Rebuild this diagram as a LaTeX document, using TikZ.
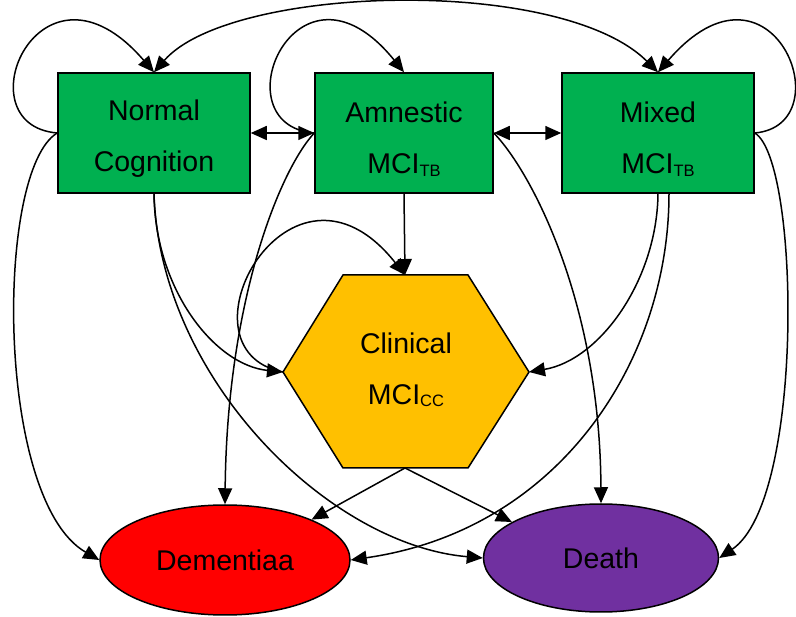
\documentclass[tikz,border=0pt]{standalone}
\usepackage{fontspec}
\setmainfont{Liberation Sans}
\usetikzlibrary{arrows.meta,shapes.geometric}
\definecolor{boxgreen}{HTML}{00B050}
\definecolor{hexorange}{HTML}{FFC000}
\definecolor{demred}{HTML}{FF0000}
\definecolor{deathpurple}{HTML}{7030A0}
\newcommand\subtxt[1]{{\fontsize{16.5}{16.5}\selectfont\raisebox{-2.5pt}{#1}}}
\begin{document}
\begin{tikzpicture}[x=1pt,y=-1pt,line width=1.5pt,
  lbl/.style={align=center,font=\fontsize{28.5}{51}\selectfont},
  box/.style={draw=black,line width=1.5pt,fill=boxgreen,minimum height=120pt,inner sep=0pt},
  oval/.style={lbl,ellipse,draw=black,line width=1.5pt,inner sep=0pt},
  arr/.style={-{Triangle[length=16pt,width=14pt]}},
  darr/.style={{Triangle[length=16pt,width=14pt]}-{Triangle[length=16pt,width=14pt]}}]
\useasboundingbox (0,0) rectangle (796,617);

% state boxes
\node[box,minimum width=192pt] (N) at (154,133) {};
\node[box,minimum width=178pt] (A) at (404,133) {};
\node[box,minimum width=192pt] (M) at (658,133) {};
\node[lbl] (Nt) at (154,139) {Normal\\Cognition};
\node[lbl] (At) at (404,139) {Amnestic\\MCI\subtxt{TB}};
\node[lbl] (Mt) at (658,139) {Mixed\\MCI\subtxt{TB}};

% hexagon
\filldraw[fill=hexorange,draw=black,line width=1.5pt]
  (343,275) -- (468,275) -- (529,372) -- (468,468) -- (343,468) -- (283,372) -- cycle;
\node[lbl] (C) at (406,370) {Clinical\\MCI\subtxt{CC}};
\coordinate (Ct) at (405,275);
\coordinate (Cl) at (283,372);
\coordinate (Cr) at (529,372);
\coordinate (Cb) at (405,468);

% absorbing states
\node[oval,fill=demred,minimum width=250pt,minimum height=110pt] (D) at (225,560) {Dementiaa};
\node[oval,fill=deathpurple,minimum width=235pt,minimum height=108pt] (X) at (601,558) {Death};

\coordinate (Ms2) at ([xshift=11pt]M.south);

% self loops
\draw[arr] (N.west) .. controls (-40,125) and (40,-60) .. (N.north);
\draw[arr] (A.west) .. controls (217,125) and (297,-60) .. (A.north);
\draw[arr] (M.east) .. controls (845,125) and (772,-60) .. (M.north);
\draw[arr] (Cl) .. controls (170,350) and (290,130) .. (Ct);

% top arc and horizontal links
\draw[darr] (N.north) .. controls (230,-15) and (560,-25) .. (M.north);
\draw[darr] (N.east) -- (A.west);
\draw[darr] (A.east) -- (M.west);

% into clinical
\draw[arr] (A.south) -- (Ct);
\draw[arr] (N.south) .. controls (155,290) and (215,365) .. (Cl);
\draw[arr] (M.south) .. controls (657,280) and (600,360) .. (Cr);

% to dementia / death
\draw[arr] (N.west) .. controls (-5,170) and (-5,500) .. (D.west);
\draw[arr] (N.south) .. controls (160,380) and (330,545) .. (X.west);
\draw[arr] (A.west) .. controls (280,170) and (227,300) .. (D.north);
\draw[arr] (A.east) .. controls (530,170) and (600,300) .. (X.north);
\draw[arr] (Ms2) .. controls (669,360) and (560,530) .. (D.east);
\draw[arr] (M.east) .. controls (800,160) and (805,500) .. (X.east);
\draw[arr] (Cb) -- (D.25);
\draw[arr] (Cb) -- (X.158);
\end{tikzpicture}
\end{document}
